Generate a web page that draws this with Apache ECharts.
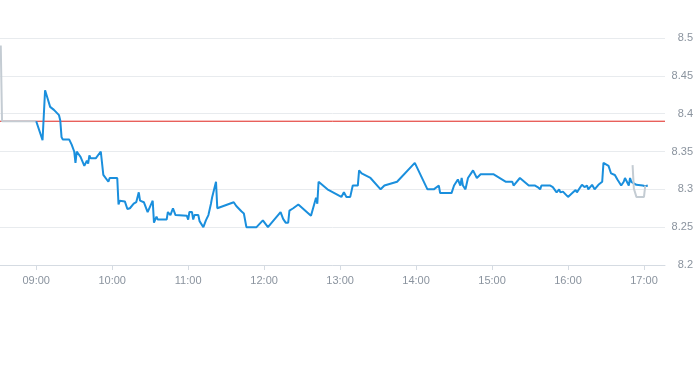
<!DOCTYPE html>
<html>
<head>
<meta charset="utf-8">
<script src="https://cdn.jsdelivr.net/npm/echarts@6/dist/echarts.min.js"></script>
<style>
  html, body { margin: 0; padding: 0; background: #ffffff; }
  #chart { width: 693px; height: 365px; }
</style>
</head>
<body>
<div id="chart"></div>
<script>
// ---- data ----
const day = '2024-01-02 ';
const prevClose = 8.39;

const preTimes  = ['08:32', '08:33', '09:00'];
const prePrices = [8.49, 8.39, 8.39];

const mainTimes = [
  '09:00','09:05','09:07','09:09','09:11','09:14','09:18','09:19','09:20','09:21',
  '09:26','09:28','09:30','09:31','09:32','09:35','09:38','09:40','09:41','09:42',
  '09:43','09:47','09:51','09:53','09:54','09:57','09:58','10:04','10:05','10:06',
  '10:10','10:12','10:14','10:17','10:19','10:21','10:22','10:25','10:26','10:28',
  '10:32','10:33','10:35','10:36','10:43','10:44','10:46','10:48','10:50','10:59',
  '11:00','11:01','11:03','11:04','11:05','11:08','11:09','11:12','11:14','11:16',
  '11:18','11:19','11:22','11:23','11:36','11:38','11:42','11:44','11:45','11:46',
  '11:54','11:59','12:03','12:13','12:15','12:17','12:19','12:20','12:23','12:27',
  '12:37','12:40','12:41','12:42','12:43','12:50','13:01','13:03','13:05','13:08',
  '13:10','13:14','13:15','13:17','13:24','13:32','13:35','13:45','13:59','14:09',
  '14:14','14:18','14:19','14:28','14:30','14:33','14:35','14:36','14:37','14:39',
  '14:41','14:45','14:48','14:51','15:01','15:11','15:16','15:17','15:22','15:29',
  '15:34','15:36','15:38','15:39','15:46','15:48','15:51','15:53','15:54','15:56',
  '16:00','16:04','16:06','16:07','16:11','16:13','16:15','16:16','16:19','16:21',
  '16:24','16:27','16:28','16:32','16:34','16:37','16:39','16:42','16:44','16:45',
  '16:46','16:48','16:49','16:50','16:54','16:59','17:01','17:03'
];
const mainPrices = [
  8.390,8.365,8.431,8.420,8.409,8.405,8.398,8.391,8.369,8.366,
  8.366,8.359,8.350,8.335,8.350,8.343,8.331,8.338,8.334,8.345,
  8.341,8.341,8.350,8.319,8.318,8.310,8.315,8.315,8.280,8.285,
  8.284,8.274,8.275,8.281,8.283,8.296,8.285,8.283,8.281,8.270,
  8.285,8.256,8.264,8.260,8.260,8.270,8.266,8.275,8.266,8.265,
  8.260,8.270,8.270,8.260,8.266,8.266,8.258,8.250,8.259,8.266,
  8.281,8.290,8.310,8.275,8.283,8.278,8.271,8.268,8.266,8.250,
  8.250,8.259,8.250,8.270,8.261,8.256,8.256,8.272,8.275,8.280,
  8.265,8.283,8.289,8.281,8.310,8.300,8.290,8.296,8.290,8.290,
  8.305,8.305,8.325,8.321,8.315,8.300,8.305,8.310,8.335,8.300,
  8.300,8.305,8.295,8.295,8.305,8.313,8.305,8.315,8.305,8.300,
  8.315,8.325,8.315,8.320,8.320,8.310,8.310,8.305,8.315,8.305,
  8.305,8.303,8.300,8.305,8.305,8.303,8.296,8.300,8.296,8.297,
  8.290,8.296,8.299,8.296,8.306,8.303,8.305,8.300,8.306,8.300,
  8.306,8.310,8.335,8.331,8.321,8.319,8.313,8.305,8.310,8.315,
  8.315,8.305,8.315,8.310,8.306,8.305,8.304,8.305
];

const postTimes  = ['16:51', '16:52', '16:54', '17:00', '17:01'];
const postPrices = [8.332, 8.301, 8.290, 8.290, 8.305];

const yMin = 8.2, yMax = 8.5, yStep = 0.05;
const xMin = day + '08:31:24', xMax = day + '17:16:36';

const toSeries = (ts, ps) => ts.map((t, i) => [day + t, ps[i]]);

const chart = echarts.init(document.getElementById('chart'), null, { renderer: 'canvas' });
chart.setOption({
  animation: false,
  backgroundColor: '#ffffff',
  grid: { left: 0, right: 28, top: 38, bottom: 100, containLabel: false, outerBoundsMode: 'none' },
  xAxis: {
    type: 'time',
    min: xMin,
    max: xMax,
    minInterval: 3600000,
    maxInterval: 3600000,
    axisLine: { show: true, lineStyle: { color: '#d5dbe2', width: 1 } },
    axisTick: { show: true, length: 5, lineStyle: { color: '#d5dbe2' } },
    axisLabel: {
      color: '#8a939e', fontSize: 11, fontFamily: 'Liberation Sans, Arial, sans-serif',
      margin: 10, showMinLabel: false, showMaxLabel: false,
      formatter: '{HH}:{mm}', hideOverlap: false
    },
    splitLine: { show: false }
  },
  yAxis: {
    type: 'value',
    position: 'right',
    min: yMin, max: yMax, interval: yStep,
    axisLine: { show: false },
    axisTick: { show: false },
    axisLabel: {
      color: '#8a939e', fontSize: 11, fontFamily: 'Liberation Sans, Arial, sans-serif',
      align: 'right', margin: 28
    },
    splitLine: { show: true, lineStyle: { color: '#e8ebee', width: 1 } }
  },
  series: [
    {
      type: 'line', data: [[xMin, prevClose], [xMax, prevClose]],
      showSymbol: false, silent: true, z: 1,
      lineStyle: { color: '#e0231c', width: 1 }, itemStyle: { color: '#e0231c' }
    },
    {
      type: 'line', data: toSeries(preTimes, prePrices), z: 2,
      showSymbol: false, lineStyle: { color: '#c4ccd3', width: 2 }, itemStyle: { color: '#c4ccd3' }
    },
    {
      type: 'line', data: toSeries(mainTimes, mainPrices), z: 3,
      showSymbol: false, lineStyle: { color: '#1a8fdd', width: 2 }, itemStyle: { color: '#1a8fdd' }
    },
    {
      type: 'line', data: toSeries(postTimes, postPrices), z: 4,
      showSymbol: false, lineStyle: { color: '#c4ccd3', width: 2 }, itemStyle: { color: '#c4ccd3' }
    }
  ]
});
</script>
</body>
</html>
